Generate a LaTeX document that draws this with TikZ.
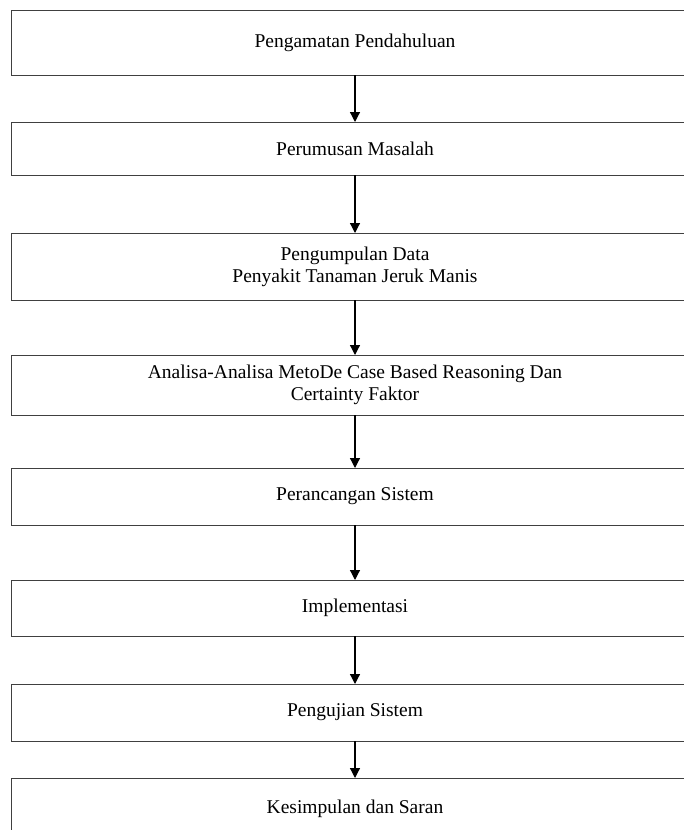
\documentclass[tikz,border=0pt]{standalone}
\usepackage{fontspec}
\setmainfont{Liberation Serif}
\usetikzlibrary{arrows.meta,positioning}

\begin{document}
\begin{tikzpicture}[
    x=1pt, y=1pt,
    node distance=50pt,
    box/.style={rectangle, draw=black!75, line width=0.9pt, minimum width=688pt,
        align=center, inner sep=0pt, outer sep=0pt, font=\fontsize{19.5}{22}\selectfont},
    arr/.style={-{Triangle[length=10pt, width=10pt]}, line width=1.2pt}
]
    \useasboundingbox (0,0) rectangle (684,-830);
    \clip (0,0) rectangle (684,-830);

    % Steps
    \node[box, minimum height=65pt, anchor=north] (obs) at (355,-10) {Pengamatan Pendahuluan};
    \node[box, minimum height=53pt, below=47pt of obs] (rumus) {Perumusan Masalah};
    \node[box, minimum height=67pt, below=58pt of rumus] (data) {Pengumpulan Data\\Penyakit Tanaman Jeruk Manis};
    \node[box, minimum height=60pt, below=55pt of data] (analisa) {Analisa-Analisa MetoDe Case Based Reasoning Dan\\Certainty Faktor};
    \node[box, minimum height=57pt, below=53pt of analisa] (rancang) {Perancangan Sistem};
    \node[box, minimum height=56pt, below=55pt of rancang] (impl) {Implementasi};
    \node[box, minimum height=57pt, below=48pt of impl] (uji) {Pengujian Sistem};
    \node[box, minimum height=62pt, below=37pt of uji] (simpul) {Kesimpulan dan Saran};

    % Arrows
    \draw[arr] (obs) -- (rumus);
    \draw[arr] (rumus) -- (data);
    \draw[arr] (data) -- (analisa);
    \draw[arr] (analisa) -- (rancang);
    \draw[arr] (rancang) -- (impl);
    \draw[arr] (impl) -- (uji);
    \draw[arr] (uji) -- (simpul);
\end{tikzpicture}
\end{document}
